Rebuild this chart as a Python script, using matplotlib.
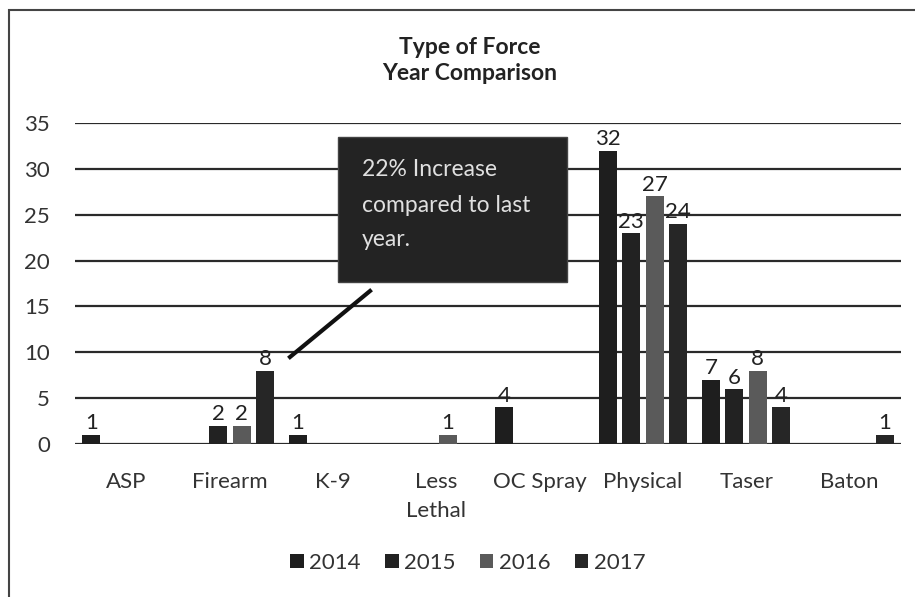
import matplotlib.pyplot as plt
from matplotlib.patches import Rectangle
from matplotlib.lines import Line2D
import numpy as np

plt.rcParams['font.family'] = ['Lato', 'DejaVu Sans']

# Data
categories = ['ASP', 'Firearm', 'K-9', 'Less\nLethal', 'OC Spray', 'Physical', 'Taser', 'Baton']
years = ['2014', '2015', '2016', '2017']
v2014 = [1, 0, 1, 0, 4, 32, 7, 0]
v2015 = [0, 2, 0, 0, 0, 23, 6, 0]
v2016 = [0, 2, 0, 1, 0, 27, 8, 0]
v2017 = [0, 8, 0, 0, 0, 24, 4, 1]
series = [v2014, v2015, v2016, v2017]
colors = ['#1e1e1e', '#222222', '#5a5a5a', '#262626']

W, H = 915, 597
fig = plt.figure(figsize=(W / 100, H / 100), dpi=100)
ax = fig.add_axes([75 / W, 1 - 444 / H, (901 - 75) / W, (444 - 123) / H])

x = np.arange(len(categories))
step = 0.2275
width = 0.175
for j, (vals, c, yr) in enumerate(zip(series, colors, years)):
    pos = x + (j - 1.5) * step
    ax.bar(pos, vals, width, color=c, label=yr, zorder=3)
    for p, v in zip(pos, vals):
        if v > 0:
            ax.annotate(str(v), (p, v), xytext=(0, 1), textcoords='offset points',
                        ha='center', va='bottom', fontsize=16, color='#222222')

ax.set_xlim(-0.5, len(categories) - 0.5)
ax.set_ylim(0, 35)
ax.set_yticks(range(0, 36, 5))
ax.set_xticks(x)
ax.set_xticklabels(categories, fontsize=16, color='#333333', linespacing=1.55)
ax.tick_params(axis='y', labelsize=16, labelcolor='#333333', length=0, pad=18)
ax.tick_params(axis='x', length=0, pad=20)
ax.yaxis.grid(True, color='#2a2a2a', linewidth=1.6, zorder=0)
ax.set_axisbelow(True)
for s in ax.spines.values():
    s.set_visible(False)

# title
fig.text(470 / W, 1 - 47 / H, 'Type of Force', ha='center', va='center',
         fontsize=16.5, fontweight='bold', color='#222222')
fig.text(470 / W, 1 - 73 / H, 'Year Comparison', ha='center', va='center',
         fontsize=16.5, fontweight='bold', color='#222222')

# legend
leg = fig.legend(loc='center', bbox_to_anchor=(468 / W, 1 - 563 / H), ncol=4,
                 frameon=False, fontsize=16, handlelength=0.6, handleheight=0.6,
                 handletextpad=0.25, columnspacing=1.1)
for t in leg.get_texts():
    t.set_color('#333333')

# callout box
fig.add_artist(Rectangle((338 / W, 1 - 282 / H), (567 - 338) / W, (282 - 137) / H,
                         transform=fig.transFigure, facecolor='#232323',
                         edgecolor='#444444', linewidth=1, zorder=5))
for txt, yy in [('22% Increase', 170), ('compared to last', 205), ('year.', 240)]:
    fig.text(362 / W, 1 - yy / H, txt, ha='left', va='center',
             fontsize=16.5, color='#e0e0e0', zorder=6)
fig.add_artist(Line2D([370 / W, 290 / W], [1 - 291 / H, 1 - 357 / H],
                      transform=fig.transFigure, color='#111111', linewidth=3, zorder=5))

# outer frame
fig.add_artist(Rectangle((9 / W, -0.05), 1.1, 1 - 10 / H + 0.05,
                         transform=fig.transFigure, facecolor='none',
                         edgecolor='#444444', linewidth=1.5))

fig.savefig('out.png', dpi=100)
